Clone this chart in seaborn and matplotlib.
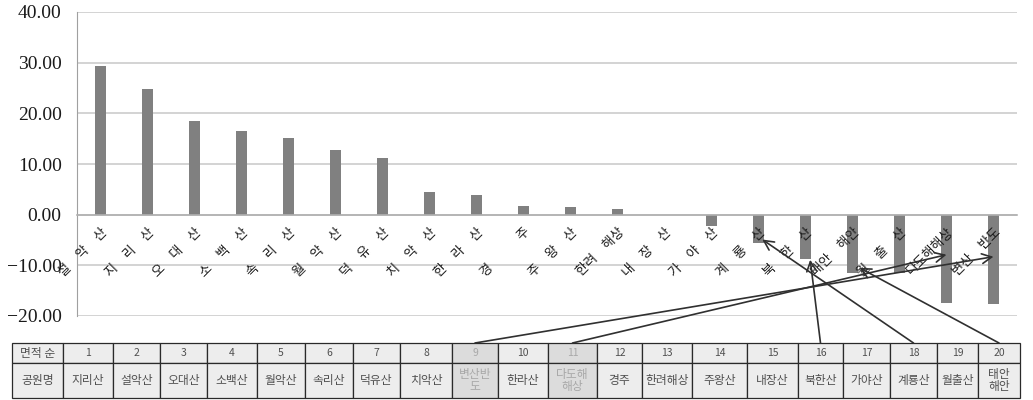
import matplotlib
matplotlib.use("Agg")

import numpy as np
import pandas as pd
import seaborn as sns
import matplotlib.pyplot as plt
from matplotlib.patches import ConnectionPatch
from matplotlib.ticker import FixedLocator, FuncFormatter


# --- data: change per park, in chart order ---
parks = ["설악산", "지리산", "오대산", "소백산", "속리산", "월악산", "덕유산",
         "치악산", "한라산", "경주", "주왕산", "한려해상", "내장산", "가야산",
         "계룡산", "북한산", "태안해안", "월출산", "다도해해상", "변산반도"]
axis_labels = ["설 악 산", "지 리 산", "오 대 산", "소 백 산", "속 리 산",
               "월 악 산", "덕 유 산", "치 악 산", "한 라 산", "경   주",
               "주 왕 산", "한려 해상", "내 장 산", "가 야 산", "계 룡 산",
               "북 한 산", "태안 해안", "월 출 산", "다도해해상", "변산 반도"]
change = [29.4, 24.8, 18.5, 16.5, 15.2, 12.7, 11.2, 4.5, 3.8, 1.8,
          1.5, 1.2, 0.0, -2.3, -5.6, -8.7, -11.5, -11.6, -17.4, -17.6]

y_ticks = [-20, -10, 0, 10, 20, 30, 40]

# --- table under the chart: parks by area ---
rank_header = "면적 순"
name_header = "공원명"
area_rank = [str(i) for i in range(1, 21)]
area_names = ["지리산", "설악산", "오대산", "소백산", "월악산", "속리산", "덕유산",
              "치악산", "변산반\n도", "한라산", "다도해\n해상", "경주", "한려해상",
              "주왕산", "내장산", "북한산", "가야산", "계룡산", "월출산", "태안\n해안"]
faded_ranks = [9, 11]

# arrows from a table rank up to the park's label in the chart
arrow_parks = ["변산반도", "다도해해상", "북한산", "계룡산", "태안해안"]
arrow_ranks = [9, 11, 16, 18, 20]
arrow_tip_dx = [0.0, 0.0, 0.1, 0.08, 0.15]
arrow_tip_y = [-8.3, -7.9, -8.9, -4.9, -10.5]

# table column widths in pixels (header column first)
col_px = [51, 50, 47, 47, 50, 48, 48, 47, 52, 46, 50, 49, 45, 50, 55, 51,
          45, 47, 47, 41, 42]


sns.set_style("white")
plt.rcParams["font.family"] = ["Noto Sans CJK KR", "DejaVu Sans"]

W, H = 1033, 400
fig = plt.figure(figsize=(W / 100, H / 100), dpi=100)
ax = fig.add_axes([77 / W, 84 / H, 940 / W, 304 / H])

df = pd.DataFrame({"park": parks, "change": change})
sns.barplot(data=df, x="park", y="change", order=parks, color="#808080",
            saturation=1, width=0.25, linewidth=0, ax=ax)

ax.set_xlim(-0.5, len(parks) - 0.5)
ax.set_ylim(-20, 40)
ax.set_xlabel("")
ax.set_ylabel("")

# y axis
ax.yaxis.set_major_locator(FixedLocator(y_ticks))
ax.yaxis.set_major_formatter(
    FuncFormatter(lambda v, p: f"{v:.2f}".replace("-", "\u2212")))
ax.tick_params(axis="y", length=5, width=1, color="#a0a0a0", pad=6,
               labelsize=14, labelcolor="#1a1a1a")
for lab in ax.get_yticklabels():
    lab.set_family("Liberation Serif")
ax.yaxis.grid(True, color="#c8c8c8", lw=1.1)
ax.set_axisbelow(True)

# x axis sits on zero, ticks between categories
ax.spines["bottom"].set_position(("data", 0))
ax.spines["bottom"].set_color("#b0b0b0")
ax.spines["bottom"].set_linewidth(1.2)
ax.spines["left"].set_color("#a0a0a0")
ax.spines["top"].set_visible(False)
ax.spines["right"].set_visible(False)
ax.set_xticks(range(len(parks)), [""] * len(parks))
ax.xaxis.set_minor_locator(FixedLocator(np.arange(-0.5, len(parks), 1)))
ax.tick_params(axis="x", which="major", length=0)
ax.tick_params(axis="x", which="minor", length=5, width=1, color="#b0b0b0",
               direction="out")

for i, lab in enumerate(axis_labels):
    ax.annotate(lab.replace(" ", "\u3000"), xy=(i, 0), xytext=(3.3, -11),
                textcoords="offset points", rotation=45, ha="right",
                va="center", rotation_mode="anchor", fontsize=9.5,
                color="#1a1a1a", zorder=5)

# --- table ---
ax_tab = fig.add_axes([12 / W, 2 / H, sum(col_px) / W, 55 / H])
ax_tab.axis("off")
widths = [w / sum(col_px) for w in col_px]
tab = ax_tab.table(cellText=[[rank_header] + area_rank, [name_header] + area_names],
                   colWidths=widths, cellLoc="center", bbox=[0, 0, 1, 1])
tab.auto_set_font_size(False)
for (r, c), cell in tab.get_celld().items():
    cell.set_height(20 if r == 0 else 35)
    cell.set_edgecolor("#2a2a2a")
    cell.set_linewidth(0.9)
    faded = c > 0 and c in faded_ranks
    cell.set_facecolor("#dcdcdc" if faded else "#ededed")
    txt = cell.get_text()
    txt.set_color("#a8a8a8" if faded else "#505050")
    txt.set_fontsize(7.5 if (r == 0 and c > 0) else 8.5)
    txt.set_linespacing(0.95)

# --- arrows from table to labels ---
edges = np.concatenate([[0], np.cumsum(widths)])
for park, rank, dx, ty in zip(arrow_parks, arrow_ranks, arrow_tip_dx, arrow_tip_y):
    cx = (edges[rank] + edges[rank + 1]) / 2
    con = ConnectionPatch(xyA=(cx, 1.0), coordsA=ax_tab.transAxes,
                          xyB=(parks.index(park) + dx, ty), coordsB=ax.transData,
                          arrowstyle="->,head_length=0.7,head_width=0.35",
                          color="#303030", lw=1.2, shrinkA=0, shrinkB=0,
                          zorder=10)
    fig.add_artist(con)

fig.savefig("out.png", dpi=100)
